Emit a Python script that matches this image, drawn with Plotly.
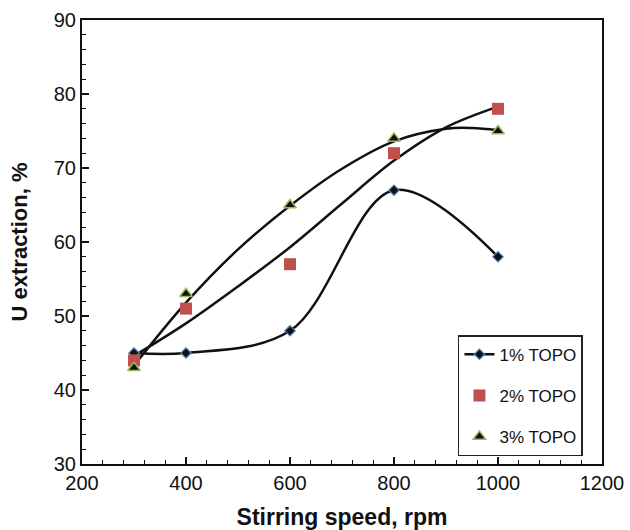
import plotly.graph_objects as go

# Data
speed = [300, 400, 600, 800, 1000]
topo1 = [45, 45, 48, 67, 58]
topo2 = [44, 51, 57, 72, 78]
topo3 = [43, 53, 65, 74, 75]

# Trend curves
trend2_x = [300, 400, 500, 600, 700, 800, 900, 1000]
trend2_y = [44.6, 49.0, 54.0, 59.3, 65.2, 71.0, 75.5, 78.3]
trend3_x = [300, 400, 500, 600, 700, 800, 900, 950, 1000]
trend3_y = [43.3, 51.8, 59.0, 64.9, 69.9, 73.6, 75.3, 75.4, 75.1]

FONT = "Liberation Sans, Arial, sans-serif"

fig = go.Figure()

fig.add_trace(go.Scatter(
    x=trend2_x, y=trend2_y, mode="lines", line=dict(color="#111111", width=2.5, shape="spline"),
    showlegend=False, hoverinfo="skip"))
fig.add_trace(go.Scatter(
    x=trend3_x, y=trend3_y, mode="lines", line=dict(color="#111111", width=2.5, shape="spline"),
    showlegend=False, hoverinfo="skip"))

fig.add_trace(go.Scatter(
    x=speed, y=topo1, mode="lines+markers", name="1% TOPO", legendgroup="a",
    line=dict(color="#111111", width=2.5, shape="spline", smoothing=1.0),
    marker=dict(symbol="diamond", size=8, color="#111111", line=dict(color="#4F81BD", width=1.2))))
fig.add_trace(go.Scatter(
    x=speed, y=topo2, mode="markers", name="2% TOPO", legendgroup="b",
    marker=dict(symbol="square", size=12, color="#C0504D", line=dict(width=0))))
fig.add_trace(go.Scatter(
    x=speed, y=topo3, mode="markers", name="3% TOPO", legendgroup="c",
    marker=dict(symbol="triangle-up", size=11, color="#111111", line=dict(color="#9BBB59", width=1.5))))

axis_common = dict(
    showgrid=False, zeroline=False, showline=True, linecolor="#111111", linewidth=2,
    mirror=True, ticks="inside", ticklen=7, tickwidth=1.5, tickcolor="#111111",
    tickfont=dict(family=FONT, size=20, color="#111111"), automargin=False,
)

fig.update_xaxes(
    range=[200, 1200], dtick=200, tick0=200,
    minor=dict(dtick=40, ticks="inside", ticklen=4, tickcolor="#111111", tickwidth=1),
    title=dict(text="<b>Stirring speed, rpm</b>", font=dict(family=FONT, size=23, color="#111111"), standoff=18),
    **axis_common)
fig.update_yaxes(
    range=[30, 90], dtick=10, tick0=30,
    minor=dict(dtick=2, ticks="inside", ticklen=4, tickcolor="#111111", tickwidth=1),
    title=dict(text="<b>U extraction, %</b>", font=dict(family=FONT, size=22, color="#111111"), standoff=20),
    **axis_common)

fig.update_layout(
    width=630, height=530,
    margin=dict(l=82, r=28, t=20, b=66),
    paper_bgcolor="white", plot_bgcolor="white",
    font=dict(family=FONT, color="#111111"),
    legend=dict(
        x=0.723, y=0.29, xanchor="left", yanchor="top",
        bgcolor="white", bordercolor="#222222", borderwidth=1.5,
        font=dict(family=FONT, size=17, color="#111111"),
        tracegroupgap=16, itemwidth=30),
)

fig.write_html("out.html")
